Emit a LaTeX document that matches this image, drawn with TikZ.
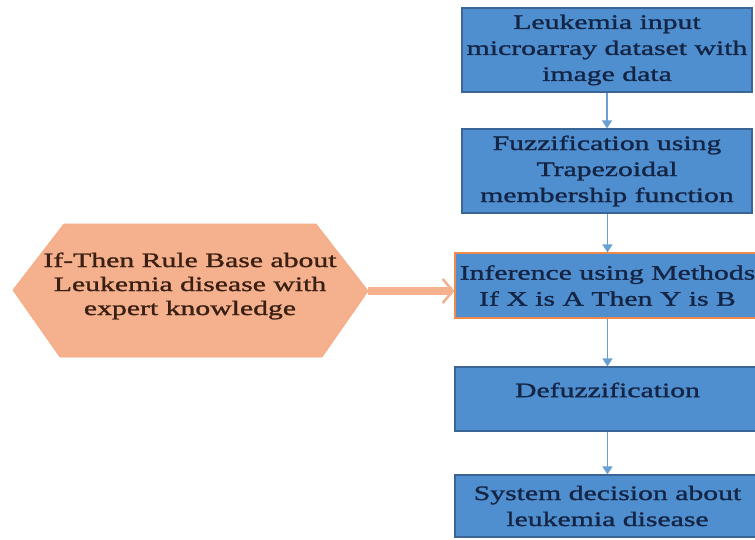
\documentclass[tikz,border=0pt]{standalone}
\usepackage{fontspec}
\setmainfont[FakeStretch=1.45,FakeBold=1.3]{Liberation Serif}
\usetikzlibrary{arrows.meta}
\definecolor{bfill}{HTML}{4F8FD0}
\definecolor{bline}{HTML}{3A6596}
\definecolor{btext}{HTML}{132444}
\definecolor{barrow}{HTML}{6A9FD4}
\definecolor{hfill}{HTML}{F5B08E}
\definecolor{htext}{HTML}{3A2012}
\definecolor{oline}{HTML}{F08A4B}
\tikzset{
  stepbox/.style={draw=bline, line width=1.2pt, fill=bfill, text=btext, align=center,
    inner sep=0pt, font=\fontsize{20.5}{26}\selectfont},
  flow/.style={draw=barrow, line width=1.4pt, -{Triangle[length=8pt,width=10pt]}},
  hextext/.style={text=htext, align=center, font=\fontsize{20.5}{24}\selectfont},
  ruleflow/.style={draw=hfill, line width=8pt, -{Straight Barb[length=10pt,width=24pt,line width=2.5pt]}},
}
\begin{document}
\begin{tikzpicture}[x=1pt,y=-1pt]
\useasboundingbox (0,0) rectangle (755,539);
\clip (0,0) rectangle (755,539);
\fill[white] (0,0) rectangle (755,539);
% hexagon
\coordinate (hl) at (13,290);
\coordinate (hr) at (368,291);
\filldraw[fill=hfill, draw=hfill!90!orange, line width=0.8pt]
  (hl) -- (64,224) -- (316,224) -- (hr) -- (322,357) -- (60,357) -- cycle;
\node[hextext] (hex) at (190,286) {If-Then Rule Base about\\Leukemia disease with\\expert knowledge};
% boxes
\node[stepbox, minimum width=290, minimum height=84] (b1) at (607,50)
  {Leukemia input\\microarray dataset with\\image data};
\node[stepbox, minimum width=290, minimum height=84] (b2) at (607,171)
  {Fuzzification using\\Trapezoidal\\membership function};
\node[stepbox, draw=oline, minimum width=305, minimum height=65] (b3) at (607.5,285.5)
  {Inference using Methods\\If X is A Then Y is B};
\node[stepbox, minimum width=305, minimum height=64] (b4) at (607.5,399) {};
\node[text=btext, font=\fontsize{20.5}{26}\selectfont] (b4t) at (607.5,390) {Defuzzification};
\node[stepbox, minimum width=305, minimum height=62] (b5) at (607.5,506)
  {System decision about\\leukemia disease};
% connectors
\draw[flow] (b1.south) -- (b2.north);
\draw[flow] (b2.south -| b3.north) -- (b3.north);
\draw[flow] (b3.south) -- (b4.north);
\draw[flow] (b4.south) -- (b5.north);
\draw[ruleflow] (hr) -- (hr -| b3.west);
\end{tikzpicture}
\end{document}
